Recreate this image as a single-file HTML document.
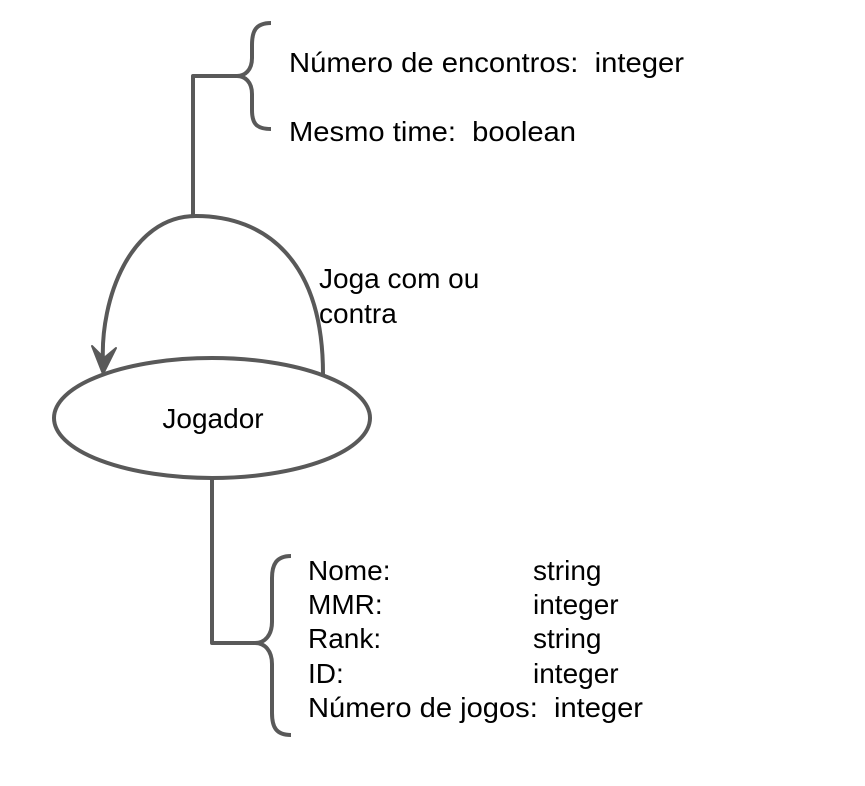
<!DOCTYPE html>
<html><head><meta charset="utf-8"><style>
body{margin:0;background:#fff;width:865px;height:781px;overflow:hidden}
svg text{font-family:"Liberation Sans",Arial,sans-serif;font-size:28px;fill:#000;white-space:pre}
</style></head><body>
<svg width="865" height="781" viewBox="0 0 865 781" xmlns="http://www.w3.org/2000/svg">
<g fill="none" stroke="#595959" stroke-width="4" stroke-linejoin="round">
<path d="M193 216 V76 H237"/>
<path d="M271 23 C255 23 252 32 252 45 V58 C252 70 245 76 237 76 C245 76 252 82 252 94 V110 C252 122 255 129 271 129"/>
<path d="M323 374 C323 260 265 216 196 216 C130 216 100 300 103 362"/>
<path d="M212 478 V643 H255"/>
<path d="M291 556 C276 556 272 565 272 578 V622 C272 635 265 643 255 643 C265 643 272 651 272 664 V713 C272 727 276 735 291 735"/>
<ellipse cx="212" cy="418" rx="158" ry="60"/>
</g>
<path d="M92 346 L103 374 L116 348 L104 358 Z" fill="#595959" stroke="#595959" stroke-width="2" stroke-linejoin="round"/>
<text x="289" y="72" textLength="395" lengthAdjust="spacingAndGlyphs">Número de encontros:  integer</text>
<text x="289" y="141" textLength="287" lengthAdjust="spacingAndGlyphs">Mesmo time:  boolean</text>
<text x="319" y="288">Joga com ou</text>
<text x="319" y="323">contra</text>
<text x="213" y="428" text-anchor="middle">Jogador</text>
<text x="308" y="580">Nome:</text><text x="533" y="580">string</text>
<text x="308" y="614">MMR:</text><text x="533" y="614">integer</text>
<text x="308" y="648">Rank:</text><text x="533" y="648">string</text>
<text x="308" y="683">ID:</text><text x="533" y="683">integer</text>
<text x="308" y="717" textLength="335" lengthAdjust="spacingAndGlyphs">Número de jogos:  integer</text>
</svg>
</body></html>
